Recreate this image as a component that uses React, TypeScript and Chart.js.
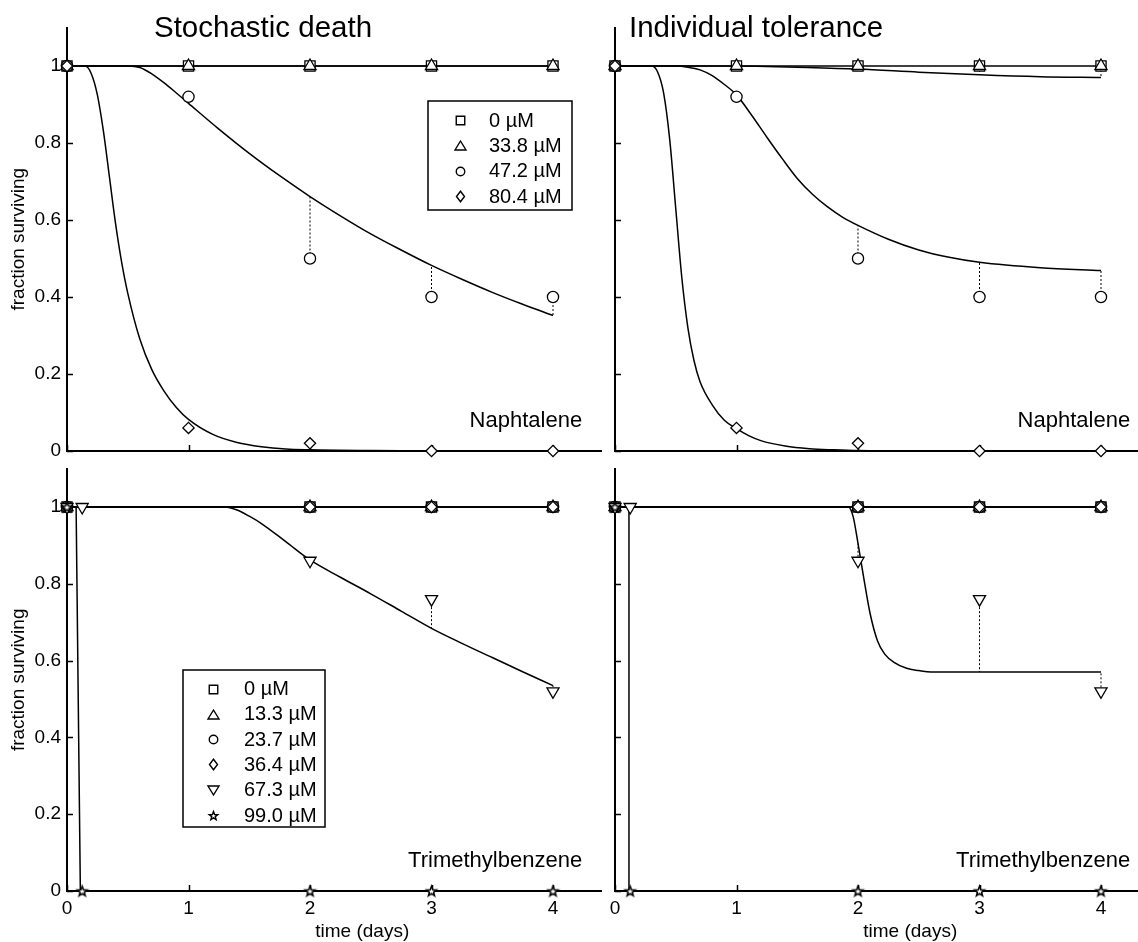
import React, { useEffect, useRef } from 'react';
import { Chart, registerables } from 'chart.js';

Chart.register(...registerables);

const FONT = '"Liberation Sans", Arial, Helvetica, sans-serif';
Chart.defaults.font.family = FONT;
Chart.defaults.color = '#000';

// ---------------- data ----------------
const naphLabels = ['0 µM', '33.8 µM', '47.2 µM', '80.4 µM'];
const tmbLabels = ['0 µM', '13.3 µM', '23.7 µM', '36.4 µM', '67.3 µM', '99.0 µM'];
const xTickLabels = ['0', '1', '2', '3', '4'];
const yTickLabels = ['0', '0.2', '0.4', '0.6', '0.8', '1'];

// observations, naphthalene
const naphObsT = [0, 1, 2, 3, 4];
const naphObs0 = [1, 1, 1, 1, 1];
const naphObs338 = [1, 1, 1, 1, 1];
const naphObs472 = [1, 0.92, 0.5, 0.4, 0.4];
const naphObs804 = [1, 0.06, 0.02, 0, 0];

// observations, trimethylbenzene
const tmbObsT = [0, 2, 3, 4];
const tmbObsTHigh = [0, 0.125, 2, 3, 4];
const tmbObs0 = [1, 1, 1, 1];
const tmbObs133 = [1, 1, 1, 1];
const tmbObs237 = [1, 1, 1, 1];
const tmbObs364 = [1, 1, 1, 1];
const tmbObs673 = [1, 1, 0.86, 0.76, 0.52];
const tmbObs990 = [1, 0, 0, 0, 0];

// fitted curves
const naphFlatT = [0, 1, 2, 3, 4];
const naphFlatV = [1, 1, 1, 1, 1];
const tmbFlatT = [0, 0.125, 2, 3, 4];
const tmbFlatV = [1, 1, 1, 1, 1];

const sdNaph472T = [0, 0.5, 0.6, 0.7, 0.8, 0.9, 1, 1.25, 1.5, 1.75, 2, 2.25, 2.5, 2.75, 3, 3.25, 3.5, 3.75, 4];
const sdNaph472V = [1, 1, 0.996, 0.979, 0.956, 0.93, 0.903, 0.836, 0.773, 0.715, 0.661, 0.611, 0.564, 0.522, 0.482, 0.446, 0.412, 0.381, 0.352];
const sdNaph804T = [0, 0.15, 0.2, 0.25, 0.3, 0.35, 0.4, 0.45, 0.5, 0.6, 0.7, 0.8, 0.9, 1, 1.2, 1.4, 1.6, 1.8, 2, 2.5, 3, 4];
const sdNaph804V = [1, 1, 0.98, 0.925, 0.83, 0.71, 0.59, 0.49, 0.41, 0.29, 0.21, 0.155, 0.113, 0.082, 0.043, 0.022, 0.011, 0.005, 0.003, 0.001, 0, 0];

const itNaph338T = [0, 1, 1.25, 1.5, 2, 2.5, 3, 3.5, 4];
const itNaph338V = [1, 1, 0.999, 0.997, 0.992, 0.984, 0.977, 0.972, 0.97];
const itNaph472T = [0, 0.5, 0.6, 0.7, 0.8, 0.9, 1, 1.125, 1.25, 1.375, 1.5, 1.625, 1.75, 1.875, 2, 2.25, 2.5, 2.75, 3, 3.5, 4];
const itNaph472V = [1, 1, 0.997, 0.99, 0.975, 0.952, 0.925, 0.872, 0.815, 0.76, 0.708, 0.667, 0.634, 0.607, 0.586, 0.55, 0.522, 0.503, 0.49, 0.476, 0.469];
const itNaph804T = [0, 0.3, 0.35, 0.4, 0.45, 0.5, 0.55, 0.6, 0.65, 0.7, 0.8, 0.9, 1, 1.1, 1.2, 1.4, 1.6, 1.8, 2, 2.5, 3, 4];
const itNaph804V = [1, 1, 0.985, 0.93, 0.81, 0.63, 0.45, 0.32, 0.235, 0.18, 0.12, 0.08, 0.058, 0.04, 0.027, 0.013, 0.006, 0.003, 0.001, 0, 0, 0];

const sdTmb673T = [0, 0.125, 1.3, 1.4, 1.5, 1.6, 1.8, 2, 2.25, 2.5, 2.75, 3, 3.25, 3.5, 3.75, 4];
const sdTmb673V = [1, 1, 1, 0.992, 0.976, 0.957, 0.91, 0.862, 0.817, 0.774, 0.729, 0.684, 0.645, 0.608, 0.571, 0.535];
const sdTmb990T = [0, 0.075, 0.11, 0.125, 2, 3, 4];
const sdTmb990V = [1, 1, 0, 0, 0, 0, 0];

const itTmb673T = [0, 0.125, 1.92, 1.96, 2, 2.05, 2.1, 2.16, 2.22, 2.3, 2.4, 2.5, 2.6, 3, 4];
const itTmb673V = [1, 1, 1, 0.975, 0.905, 0.81, 0.722, 0.652, 0.617, 0.595, 0.58, 0.574, 0.57, 0.57, 0.57];
const itTmb990T = [0, 0.115, 0.115, 0.125, 2, 3, 4];
const itTmb990V = [1, 1, 0, 0, 0, 0, 0];

// ---------------- series ----------------
type Series = {
  label: string; marker: string;
  obsT: number[]; obsV: number[];
  fitT: number[]; fitV: number[];
  smooth: boolean;
};

const naphSD: Series[] = [
  { label: naphLabels[0], marker: 'square', obsT: naphObsT, obsV: naphObs0, fitT: naphFlatT, fitV: naphFlatV, smooth: true },
  { label: naphLabels[1], marker: 'triangle', obsT: naphObsT, obsV: naphObs338, fitT: naphFlatT, fitV: naphFlatV, smooth: true },
  { label: naphLabels[2], marker: 'circle', obsT: naphObsT, obsV: naphObs472, fitT: sdNaph472T, fitV: sdNaph472V, smooth: true },
  { label: naphLabels[3], marker: 'diamond', obsT: naphObsT, obsV: naphObs804, fitT: sdNaph804T, fitV: sdNaph804V, smooth: true },
];
const naphIT: Series[] = [
  { label: naphLabels[0], marker: 'square', obsT: naphObsT, obsV: naphObs0, fitT: naphFlatT, fitV: naphFlatV, smooth: true },
  { label: naphLabels[1], marker: 'triangle', obsT: naphObsT, obsV: naphObs338, fitT: itNaph338T, fitV: itNaph338V, smooth: true },
  { label: naphLabels[2], marker: 'circle', obsT: naphObsT, obsV: naphObs472, fitT: itNaph472T, fitV: itNaph472V, smooth: true },
  { label: naphLabels[3], marker: 'diamond', obsT: naphObsT, obsV: naphObs804, fitT: itNaph804T, fitV: itNaph804V, smooth: true },
];
const tmbSD: Series[] = [
  { label: tmbLabels[0], marker: 'square', obsT: tmbObsT, obsV: tmbObs0, fitT: tmbFlatT, fitV: tmbFlatV, smooth: true },
  { label: tmbLabels[1], marker: 'triangle', obsT: tmbObsT, obsV: tmbObs133, fitT: tmbFlatT, fitV: tmbFlatV, smooth: true },
  { label: tmbLabels[2], marker: 'circle', obsT: tmbObsT, obsV: tmbObs237, fitT: tmbFlatT, fitV: tmbFlatV, smooth: true },
  { label: tmbLabels[3], marker: 'diamond', obsT: tmbObsT, obsV: tmbObs364, fitT: tmbFlatT, fitV: tmbFlatV, smooth: true },
  { label: tmbLabels[4], marker: 'triangleDown', obsT: tmbObsTHigh, obsV: tmbObs673, fitT: sdTmb673T, fitV: sdTmb673V, smooth: true },
  { label: tmbLabels[5], marker: 'pentagram', obsT: tmbObsTHigh, obsV: tmbObs990, fitT: sdTmb990T, fitV: sdTmb990V, smooth: false },
];
const tmbIT: Series[] = [
  { label: tmbLabels[0], marker: 'square', obsT: tmbObsT, obsV: tmbObs0, fitT: tmbFlatT, fitV: tmbFlatV, smooth: true },
  { label: tmbLabels[1], marker: 'triangle', obsT: tmbObsT, obsV: tmbObs133, fitT: tmbFlatT, fitV: tmbFlatV, smooth: true },
  { label: tmbLabels[2], marker: 'circle', obsT: tmbObsT, obsV: tmbObs237, fitT: tmbFlatT, fitV: tmbFlatV, smooth: true },
  { label: tmbLabels[3], marker: 'diamond', obsT: tmbObsT, obsV: tmbObs364, fitT: tmbFlatT, fitV: tmbFlatV, smooth: true },
  { label: tmbLabels[4], marker: 'triangleDown', obsT: tmbObsTHigh, obsV: tmbObs673, fitT: itTmb673T, fitV: itTmb673V, smooth: true },
  { label: tmbLabels[5], marker: 'pentagram', obsT: tmbObsTHigh, obsV: tmbObs990, fitT: itTmb990T, fitV: itTmb990V, smooth: false },
];

// ---------------- layout (styles / positions) ----------------
const W = 1138;
const H = 942;
const XAXIS_H = 40;

type LegendBox = { x1: number; y1: number; x2: number; y2: number; row0: number; step: number; markerX: number; textX: number };
type Panel = {
  series: Series[];
  left: number; top: number; right: number; bottom: number; xMax: number;
  xLabels: boolean; yLabels: boolean;
  yTitle: string | null; xTitle: string | null;
  title: string | null; titleX: number;
  note: string;
  legend: LegendBox | null;
};

const panels: Panel[] = [
  {
    series: naphSD, left: 67, top: 27.5, right: 601.6, bottom: 451, xMax: 4.4,
    xLabels: false, yLabels: true, yTitle: 'fraction surviving', xTitle: null,
    title: 'Stochastic death', titleX: 154, note: 'Naphtalene',
    legend: { x1: 428, y1: 101, x2: 572, y2: 210, row0: 120, step: 25.4, markerX: 460, textX: 489 },
  },
  {
    series: naphIT, left: 615, top: 27.5, right: 1137.45, bottom: 451, xMax: 4.3,
    xLabels: false, yLabels: false, yTitle: null, xTitle: null,
    title: 'Individual tolerance', titleX: 629, note: 'Naphtalene', legend: null,
  },
  {
    series: tmbSD, left: 67, top: 468.6, right: 601.6, bottom: 891, xMax: 4.4,
    xLabels: true, yLabels: true, yTitle: 'fraction surviving', xTitle: 'time (days)',
    title: null, titleX: 0, note: 'Trimethylbenzene',
    legend: { x1: 183, y1: 670, x2: 325, y2: 827, row0: 688.5, step: 25.3, markerX: 213, textX: 244 },
  },
  {
    series: tmbIT, left: 615, top: 468.6, right: 1137.45, bottom: 891, xMax: 4.3,
    xLabels: true, yLabels: false, yTitle: null, xTitle: 'time (days)',
    title: null, titleX: 0, note: 'Trimethylbenzene', legend: null,
  },
];

// ---------------- markers ----------------
function markerPath(g: CanvasRenderingContext2D, kind: string, cx: number, cy: number, w: number, h: number) {
  g.beginPath();
  if (kind === 'square') {
    g.rect(cx - w / 2, cy - h / 2, w, h);
  } else if (kind === 'circle') {
    g.arc(cx, cy, w / 2, 0, Math.PI * 2);
  } else if (kind === 'triangle') {
    g.moveTo(cx, cy - h / 2);
    g.lineTo(cx + w / 2, cy + h / 2);
    g.lineTo(cx - w / 2, cy + h / 2);
    g.closePath();
  } else if (kind === 'triangleDown') {
    g.moveTo(cx - w / 2, cy - h / 2);
    g.lineTo(cx + w / 2, cy - h / 2);
    g.lineTo(cx, cy + h / 2);
    g.closePath();
  } else if (kind === 'diamond') {
    g.moveTo(cx, cy - h / 2);
    g.lineTo(cx + w / 2, cy);
    g.lineTo(cx, cy + h / 2);
    g.lineTo(cx - w / 2, cy);
    g.closePath();
  } else if (kind === 'pentagram') {
    const R = w / 2;
    const r = R * 0.42;
    for (let k = 0; k < 10; k++) {
      const a = -Math.PI / 2 + (k * Math.PI) / 5;
      const rr = k % 2 === 0 ? R : r;
      const px = cx + rr * Math.cos(a);
      const py = cy + 0.5 + rr * Math.sin(a);
      if (k === 0) g.moveTo(px, py);
      else g.lineTo(px, py);
    }
    g.closePath();
  }
}

function makeStarImage(size: number): HTMLCanvasElement {
  const c = document.createElement('canvas');
  c.width = 15;
  c.height = 15;
  const g = c.getContext('2d') as CanvasRenderingContext2D;
  g.strokeStyle = '#000';
  g.fillStyle = '#fff';
  g.lineWidth = 1.5;
  markerPath(g, 'pentagram', 7.5, 7.5, size, size);
  g.fill();
  g.stroke();
  return c;
}

// Chart.js point styles for plot markers
function pointStyleFor(kind: string, star: HTMLCanvasElement) {
  switch (kind) {
    case 'square': return { pointStyle: 'rect', pointRadius: 7.2, pointRotation: 0 };
    case 'triangle': return { pointStyle: 'triangle', pointRadius: 7, pointRotation: 0 };
    case 'circle': return { pointStyle: 'circle', pointRadius: 5.6, pointRotation: 0 };
    case 'diamond': return { pointStyle: 'rectRot', pointRadius: 5.6, pointRotation: 0 };
    case 'triangleDown': return { pointStyle: 'triangle', pointRadius: 7, pointRotation: 180 };
    default: return { pointStyle: star, pointRadius: 6, pointRotation: 0 };
  }
}

const legendMarkerSize: Record<string, [number, number]> = {
  square: [8.5, 8.5], triangle: [11, 9], circle: [8.5, 8.5],
  diamond: [8, 10.5], triangleDown: [11, 9], pentagram: [9, 9],
};

function buildChart(canvas: HTMLCanvasElement, p: Panel): Chart {
  const star = makeStarImage(10.5);

  const datasets: any[] = [];
  // fitted curves
  p.series.forEach((s) => {
    datasets.push({
      label: s.label + ' fit',
      data: s.fitT.map((t, i) => ({ x: t, y: s.fitV[i] })),
      borderColor: '#000',
      borderWidth: 1.5,
      pointRadius: 0,
      showLine: true,
      fill: false,
      tension: 0,
      cubicInterpolationMode: s.smooth ? 'monotone' : 'default',
      clip: false,
      order: 5,
    });
  });
  // residual (dotted) lines between observation and fit
  p.series.forEach((s) => {
    const pts: any[] = [];
    s.obsT.forEach((t, i) => {
      let k = -1;
      for (let j = s.fitT.length - 1; j >= 0; j--) {
        if (Math.abs(s.fitT[j] - t) < 1e-9) { k = j; break; }
      }
      if (k < 0) return;
      const fv = s.fitV[k];
      if (Math.abs(fv - s.obsV[i]) < 0.006) return;
      pts.push({ x: t, y: s.obsV[i] }, { x: t, y: fv }, { x: t, y: null });
    });
    if (pts.length) {
      datasets.push({
        label: s.label + ' residual',
        data: pts,
        borderColor: '#000',
        borderWidth: 1,
        borderDash: [2, 2],
        pointRadius: 0,
        showLine: true,
        spanGaps: false,
        tension: 0,
        clip: false,
        order: 6,
      });
    }
  });
  // observation markers (later series drawn on top)
  p.series.forEach((s, i) => {
    const ps = pointStyleFor(s.marker, star);
    datasets.push({
      label: s.label,
      data: s.obsT.map((t, k) => ({ x: t, y: s.obsV[k] })),
      showLine: false,
      pointStyle: ps.pointStyle,
      pointRadius: ps.pointRadius,
      pointRotation: ps.pointRotation,
      pointBorderWidth: 1.3,
      pointBorderColor: '#000',
      pointBackgroundColor: '#fff',
      borderColor: '#000',
      backgroundColor: '#fff',
      clip: false,
      order: -1 - i,
    });
  });

  const deco = {
    id: 'deco',
    beforeDatasetsDraw(chart: any) {
      const ctx = chart.ctx as CanvasRenderingContext2D;
      const { left, bottom } = chart.chartArea;
      const xs = chart.scales.x;
      const ys = chart.scales.y;
      ctx.save();
      ctx.strokeStyle = '#000';
      ctx.lineWidth = 1.5;
      ctx.beginPath();
      xs.ticks.forEach((t: any) => {
        const px = Math.round(xs.getPixelForValue(t.value)) + 0.5;
        ctx.moveTo(px, bottom);
        ctx.lineTo(px, bottom - 6);
      });
      ys.ticks.forEach((t: any) => {
        const py = Math.round(ys.getPixelForValue(t.value)) + 0.5;
        ctx.moveTo(left, py);
        ctx.lineTo(left + 6, py);
      });
      ctx.stroke();
      ctx.restore();
    },
    afterDraw(chart: any) {
      const ctx = chart.ctx as CanvasRenderingContext2D;
      const xs = chart.scales.x;
      const ys = chart.scales.y;
      ctx.save();
      ctx.fillStyle = '#000';
      if (p.title) {
        ctx.font = '29.5px ' + FONT;
        ctx.textAlign = 'left';
        ctx.textBaseline = 'alphabetic';
        ctx.fillText(p.title, p.titleX, 37);
      }
      ctx.font = '22px ' + FONT;
      ctx.textAlign = 'right';
      ctx.textBaseline = 'middle';
      ctx.fillText(p.note, xs.getPixelForValue(4.24), ys.getPixelForValue(0.078));
      if (p.xTitle) {
        ctx.font = '19px ' + FONT;
        ctx.textAlign = 'center';
        ctx.textBaseline = 'middle';
        ctx.fillText(p.xTitle, xs.getPixelForValue(2.43), 932);
      }
      if (p.legend) {
        const L = p.legend;
        ctx.fillStyle = '#fff';
        ctx.fillRect(L.x1, L.y1, L.x2 - L.x1, L.y2 - L.y1);
        ctx.strokeStyle = '#000';
        ctx.lineWidth = 1.5;
        ctx.strokeRect(L.x1, L.y1, L.x2 - L.x1, L.y2 - L.y1);
        ctx.font = '20px ' + FONT;
        ctx.textAlign = 'left';
        ctx.textBaseline = 'middle';
        p.series.forEach((s, i) => {
          const y = L.row0 + i * L.step;
          const sz = legendMarkerSize[s.marker];
          ctx.strokeStyle = '#000';
          ctx.lineWidth = 1.4;
          markerPath(ctx, s.marker, L.markerX + 0.5, Math.round(y) + 0.5, sz[0], sz[1]);
          ctx.stroke();
          ctx.fillStyle = '#000';
          ctx.fillText(s.label, L.textX, y + 1);
        });
      }
      ctx.restore();
    },
  };

  return new Chart(canvas, {
    type: 'line',
    data: { datasets },
    options: {
      responsive: false,
      animation: false,
      devicePixelRatio: 1,
      events: [],
      layout: {
        autoPadding: false,
        padding: { left: 0, top: p.top, right: W - p.right, bottom: H - p.bottom - XAXIS_H },
      },
      plugins: {
        legend: { display: false },
        tooltip: { enabled: false },
        title: { display: false },
      },
      scales: {
        x: {
          type: 'linear',
          min: 0,
          max: p.xMax,
          afterFit: (s: any) => { s.height = XAXIS_H; },
          grid: { display: false, drawTicks: false },
          border: { display: true, color: '#000', width: 2 },
          ticks: {
            display: p.xLabels,
            stepSize: 1,
            includeBounds: false,
            autoSkip: false,
            maxRotation: 0,
            padding: 6,
            color: '#000',
            font: { size: 19, family: FONT },
            callback: (v: any) => xTickLabels[Math.round(Number(v))],
          },
        },
        y: {
          type: 'linear',
          min: 0,
          max: 1.1,
          afterFit: (s: any) => { s.width = p.left; },
          grid: { display: false, drawTicks: false },
          border: { display: true, color: '#000', width: 2 },
          ticks: {
            display: p.yLabels,
            stepSize: 0.2,
            includeBounds: false,
            padding: 6,
            color: '#000',
            font: { size: 19, family: FONT },
            callback: (_v: any, i: number) => yTickLabels[i],
          },
          title: {
            display: !!p.yTitle,
            text: p.yTitle || '',
            color: '#000',
            font: { size: 19, family: FONT },
            padding: { top: 7, bottom: 0 },
          },
        },
      },
    } as any,
    plugins: [deco as any],
  });
}

export default function App() {
  const r0 = useRef<HTMLCanvasElement>(null);
  const r1 = useRef<HTMLCanvasElement>(null);
  const r2 = useRef<HTMLCanvasElement>(null);
  const r3 = useRef<HTMLCanvasElement>(null);

  useEffect(() => {
    const refs = [r0, r1, r2, r3];
    const charts = panels.map((p, i) => buildChart(refs[i].current as HTMLCanvasElement, p));
    return () => charts.forEach((c) => c.destroy());
  }, []);

  const cs: React.CSSProperties = { position: 'absolute', left: 0, top: 0 };
  return (
    <div style={{ position: 'absolute', left: 0, top: 0, width: W, height: H, overflow: 'hidden', background: '#fff' }}>
      <canvas ref={r0} width={W} height={H} style={cs} />
      <canvas ref={r1} width={W} height={H} style={cs} />
      <canvas ref={r2} width={W} height={H} style={cs} />
      <canvas ref={r3} width={W} height={H} style={cs} />
    </div>
  );
}
